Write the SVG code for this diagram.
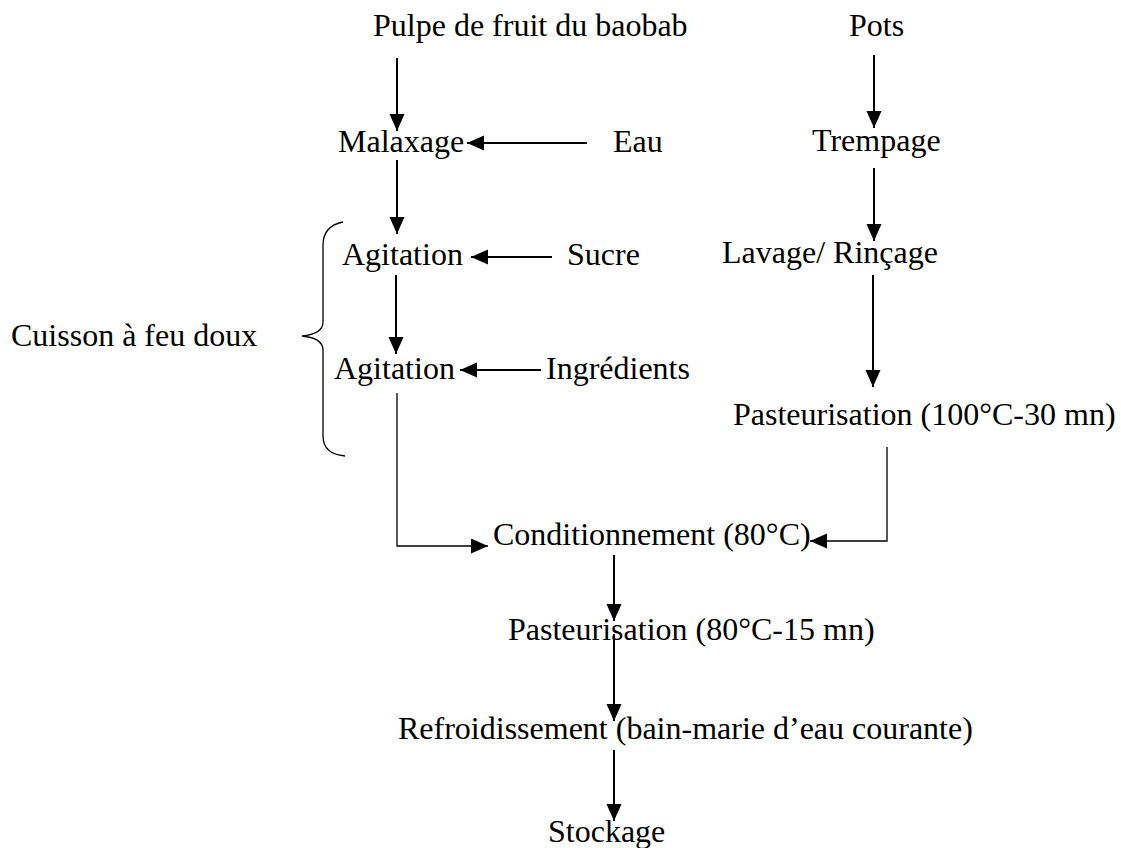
<svg xmlns="http://www.w3.org/2000/svg" width="1121" height="848" viewBox="0 0 1121 848">
<defs>
<marker id="ah" markerUnits="userSpaceOnUse" markerWidth="18" markerHeight="16" refX="17" refY="7.5" orient="auto" viewBox="0 0 18 16">
<path d="M0,0 L17,7.5 L0,15 z" fill="#000"/>
</marker>
</defs>
<style>
text{font-family:"Liberation Serif","Times New Roman",serif;font-size:32px;fill:#000}
.c{fill:none;stroke:#000;stroke-width:2}
.t{fill:none;stroke:#000;stroke-width:1.3}
</style>
<rect width="1121" height="848" fill="#fff"/>
<g id="connectors">
<line class="c" x1="397" y1="58" x2="397" y2="131" marker-end="url(#ah)"/>
<line class="c" x1="587" y1="143" x2="467" y2="143" marker-end="url(#ah)"/>
<line class="c" x1="397" y1="160" x2="397" y2="234" marker-end="url(#ah)"/>
<line class="c" x1="552" y1="257" x2="471" y2="257" marker-end="url(#ah)"/>
<line class="c" x1="396" y1="275" x2="396" y2="354" marker-end="url(#ah)"/>
<line class="c" x1="541" y1="370" x2="460" y2="370" marker-end="url(#ah)"/>
<line class="c" x1="874" y1="55" x2="874" y2="128" marker-end="url(#ah)"/>
<line class="c" x1="874" y1="168" x2="874" y2="241" marker-end="url(#ah)"/>
<line class="c" x1="873" y1="275" x2="873" y2="387" marker-end="url(#ah)"/>
<polyline class="t" points="397,393 397,546 488,546" marker-end="url(#ah)"/>
<polyline class="t" points="887,447 887,541 810,541" marker-end="url(#ah)"/>
<line class="c" x1="614" y1="555" x2="614" y2="621" marker-end="url(#ah)"/>
<line class="c" x1="614" y1="634" x2="614" y2="721" marker-end="url(#ah)"/>
<line class="c" x1="614" y1="750" x2="614" y2="821" marker-end="url(#ah)"/>
</g>
<g id="brace">
<path class="t" d="M343,222 Q323,226 323,245 L323,322 Q323,334 302,336 Q323,338 323,350 L323,436 Q323,454 345,456"/>
<text x="11" y="346">Cuisson à feu doux</text>
</g>
<g id="pulpe"><text x="373" y="36">Pulpe de fruit du baobab</text></g>
<g id="pots"><text x="849" y="36">Pots</text></g>
<g id="malaxage"><text x="338" y="152">Malaxage</text></g>
<g id="eau"><text x="613" y="152">Eau</text></g>
<g id="trempage"><text x="812" y="151">Trempage</text></g>
<g id="agitation1"><text x="342" y="265">Agitation</text></g>
<g id="sucre"><text x="567" y="265">Sucre</text></g>
<g id="lavage"><text x="722" y="263">Lavage/ Rinçage</text></g>
<g id="agitation2"><text x="334" y="379">Agitation</text></g>
<g id="ingredients"><text x="546" y="379">Ingrédients</text></g>
<g id="pasteurisation100"><text x="733" y="425">Pasteurisation (100°C-30 mn)</text></g>
<g id="conditionnement"><text x="493" y="545">Conditionnement (80°C)</text></g>
<g id="pasteurisation80"><text x="508" y="640">Pasteurisation (80°C-15 mn)</text></g>
<g id="refroidissement"><text x="398" y="739">Refroidissement (bain-marie d’eau courante)</text></g>
<g id="stockage"><text x="548" y="842">Stockage</text></g>
</svg>
